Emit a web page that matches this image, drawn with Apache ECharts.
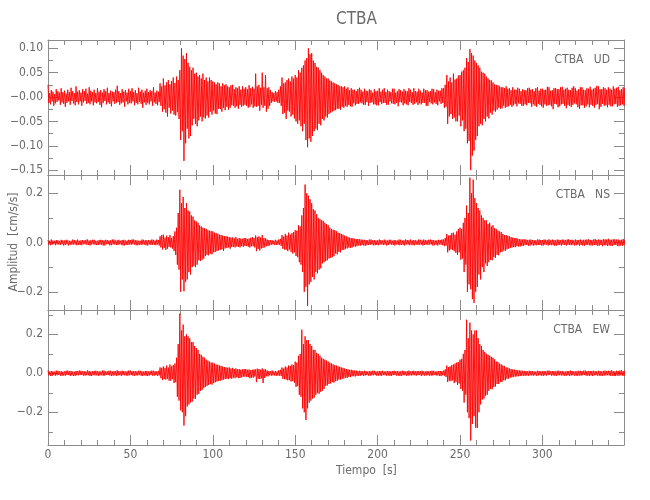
<!DOCTYPE html>
<html>
<head>
<meta charset="utf-8">
<script src="https://cdn.jsdelivr.net/npm/echarts@6/dist/echarts.min.js"></script>
<style>html,body{margin:0;padding:0;background:#fff;}#c{width:650px;height:500px;}</style>
</head>
<body>
<div id="c"></div>
<script>
// ---------------- DATA ----------------
const sampleStep = 0.5; // seconds between samples
// Acceleration in 10^-3 cm/s/s, two values per second, t = 0 .. 350 s
const udMilli = [
25,-12,8,-15,14,-9,11,-18,6,-13,16,-10,12,-7,9,-16,18,-11,10,-14,
13,-20,7,-12,15,-9,10,-16,19,-8,12,-13,8,-17,22,-10,11,-15,14,-9,
9,-18,16,-11,12,-8,17,-14,7,-12,20,-15,13,-9,10,-17,15,-11,8,-13,
18,-10,11,-16,14,-21,9,-12,16,-8,12,-15,19,-11,8,-14,13,-19,11,-9,
10,-14,15,-12,23,-10,12,-16,8,-13,16,-11,11,-20,14,-9,9,-15,17,-12,
12,-13,18,-9,10,-17,14,-12,8,-15,19,-10,11,-14,15,-22,9,-11,13,-16,
17,-12,10,-15,14,-9,12,-18,20,-11,9,-14,13,-17,11,-10,28,-18,22,-30,
38,-25,24,-32,30,-40,35,-22,26,-34,33,-28,40,-36,29,-38,42,-31,35,-45,
55,-88,100,-70,85,-131,78,-95,90,-65,70,-85,62,-80,55,-58,60,-45,48,-55,
50,-60,42,-48,45,-40,38,-50,48,-42,35,-44,40,-38,32,-42,40,-30,35,-36,
32,-28,30,-34,26,-35,30,-24,28,-25,22,-30,28,-22,24,-27,26,-20,22,-26,
20,-22,24,-17,25,-18,16,-22,20,-19,18,-24,22,-16,15,-20,22,-18,17,-16,
20,-18,16,-22,24,-20,18,-15,21,-22,17,-19,48,-20,22,-18,25,-28,19,-16,
50,-22,20,-18,45,-30,18,-24,20,-18,14,-12,10,-9,8,-10,12,-9,10,-12,
15,-12,22,-18,40,-35,28,-32,30,-45,35,-28,38,-30,32,-40,42,-36,38,-44,
45,-50,40,-55,55,-48,50,-60,60,-70,65,-55,75,-88,80,-103,100,-85,88,-92,
90,-80,75,-70,70,-65,62,-68,60,-55,55,-58,50,-45,45,-48,42,-40,38,-42,
38,-35,34,-32,32,-30,30,-28,28,-27,26,-24,25,-24,22,-26,22,-20,20,-22,
22,-18,17,-20,20,-16,14,-19,18,-20,15,-13,15,-17,12,-14,16,-14,19,-11,
15,-13,11,-16,17,-16,13,-10,12,-18,16,-12,14,-11,9,-15,16,-15,12,-17,
13,-17,18,-10,11,-14,15,-12,18,-12,10,-16,15,-16,12,-9,10,-13,17,-14,
17,-15,9,-12,12,-19,16,-10,14,-11,11,-17,16,-13,13,-15,12,-17,18,-10,
15,-12,10,-16,18,-14,12,-11,11,-16,17,-13,13,-15,9,-12,17,-12,14,-18,
14,-18,11,-10,12,-13,17,-15,16,-11,10,-14,15,-17,13,-9,13,-14,18,-12,
18,-22,25,-20,45,-55,32,-40,40,-35,30,-45,48,-42,36,-50,38,-50,44,-38,
45,-60,52,-48,55,-70,60,-65,80,-95,72,-90,98,-150,90,-120,85,-110,75,-88,
70,-80,65,-60,60,-55,52,-58,50,-45,48,-50,42,-40,38,-44,35,-32,34,-36,
30,-28,26,-30,25,-26,24,-22,22,-24,20,-23,20,-18,18,-22,22,-20,17,-19,
18,-16,14,-20,20,-17,15,-14,15,-19,19,-13,17,-14,12,-18,16,-18,14,-15,
14,-17,18,-12,19,-13,15,-20,16,-15,12,-18,18,-20,20,-14,13,-16,17,-19,
17,-22,14,-15,15,-18,21,-17,20,-16,13,-19,14,-25,18,-14,18,-15,16,-21,
16,-19,20,-15,21,-14,15,-18,17,-23,19,-16,15,-18,14,-20,19,-16,22,-13,
18,-15,13,-21,16,-24,20,-17,20,-17,15,-22,14,-19,18,-15,17,-21,21,-16,
15,-18,17,-22,19,-16,23,-14,22,-25,16,-20,16,-14,20,-18,18,-17,15,-21,
20,-16,17,-19,15,-19,22,-15,17,-14,19,-20,21,-18,14,-17,16,-15,20,-18,
19
];
const nsMilli = [
10,-8,7,-11,12,-9,8,-6,7,-11,10,-8,9,-8,6,-10,11,-7,9,-12,
8,-10,11,-7,9,-12,7,-9,7,-9,12,-8,10,-8,8,-11,12,-9,7,-10,
9,-11,10,-7,8,-7,11,-9,12,-10,8,-12,9,-8,11,-7,11,-9,7,-10,
7,-10,10,-8,11,-9,9,-12,8,-12,11,-7,10,-7,8,-11,9,-11,12,-8,
12,-8,8,-10,9,-10,11,-7,7,-9,10,-12,11,-12,8,-9,8,-10,11,-8,
10,-9,12,-7,12,-8,9,-11,9,-11,7,-9,7,-10,12,-8,11,-8,9,-11,
9,-12,10,-8,8,-10,12,-9,11,-9,8,-11,12,-8,10,-12,25,-20,30,-28,
32,-22,20,-30,28,-25,22,-18,30,-20,18,-25,26,-35,45,-50,60,-90,120,-110,
214,-200,160,-150,185,-198,140,-160,160,-150,130,-120,125,-130,110,-100,105,-95,90,-100,
85,-90,80,-72,70,-75,65,-70,60,-65,58,-55,55,-50,50,-52,48,-45,46,-48,
45,-40,40,-38,38,-35,36,-32,32,-30,30,-28,28,-34,26,-24,25,-22,24,-20,
22,-25,20,-18,20,-18,17,-20,22,-16,15,-18,18,-20,16,-14,15,-17,18,-14,
18,-14,14,-17,16,-20,19,-15,22,-15,18,-20,28,-35,22,-26,25,-32,20,-24,
30,-22,18,-20,18,-15,12,-14,10,-12,9,-9,9,-8,7,-10,11,-10,8,-9,
12,-9,15,-14,30,-25,24,-28,35,-30,28,-35,40,-28,32,-38,38,-45,42,-40,
50,-55,48,-60,70,-80,65,-90,110,-120,140,-200,235,-180,200,-257,190,-170,175,-160,
160,-140,135,-150,130,-120,115,-125,100,-110,95,-105,90,-85,88,-80,80,-75,75,-72,
70,-65,60,-62,55,-60,52,-55,50,-45,46,-48,40,-38,38,-40,35,-30,32,-30,
28,-25,25,-24,22,-20,20,-22,18,-20,18,-16,15,-17,14,-15,14,-12,13,-13,
12,-10,11,-12,11,-13,10,-11,9,-10,12,-9,12,-8,9,-11,10,-11,8,-10,
9,-11,12,-8,10,-8,8,-10,12,-9,9,-12,8,-10,11,-7,11,-9,7,-10,
10,-12,9,-8,8,-9,12,-11,11,-10,8,-9,9,-12,12,-8,10,-8,9,-11,
12,-9,8,-11,10,-11,9,-8,8,-10,12,-9,11,-9,8,-12,12,-10,10,-8,
9,-10,11,-8,12,-8,10,-12,10,-11,8,-9,9,-12,11,-8,10,-9,12,-11,
12,-15,18,-12,35,-40,28,-32,30,-28,38,-30,40,-35,32,-42,45,-50,55,-40,
60,-70,55,-65,80,-120,100,-90,150,-200,120,-170,263,-190,200,-230,255,-245,180,-200,
160,-180,140,-130,130,-150,110,-100,100,-120,90,-85,90,-95,75,-80,80,-70,65,-72,
70,-60,58,-62,55,-50,48,-52,45,-40,42,-38,35,-32,30,-34,30,-28,27,-25,
25,-22,22,-20,20,-18,18,-19,18,-15,15,-16,14,-16,13,-14,12,-13,13,-11,
12,-10,10,-13,11,-13,12,-9,10,-12,9,-11,9,-11,12,-10,12,-10,10,-12,
10,-12,12,-9,11,-9,10,-12,13,-10,9,-11,12,-11,10,-13,9,-13,12,-10,
11,-10,9,-12,12,-9,11,-10,10,-12,12,-9,13,-10,10,-11,11,-9,9,-12,
12,-11,10,-9,10,-13,12,-10,9,-12,11,-13,11,-10,12,-9,13,-11,10,-12,
10,-12,12,-10,14,-11,10,-13,12,-13,11,-10,10,-15,13,-11,13,-11,12,-14,
15,-12,11,-13,11,-14,13,-10,13,-10,12,-14,12,-15,10,-12,11,-13,14,-11,
12
];
const ewMilli = [
15,-10,9,-13,12,-14,10,-8,9,-12,14,-10,13,-8,10,-12,11,-13,8,-11,
10,-12,13,-9,14,-9,11,-13,12,-11,9,-14,8,-13,12,-10,12,-10,14,-9,
13,-9,10,-12,11,-12,9,-10,15,-10,12,-13,9,-14,11,-9,12,-11,13,-10,
11,-13,10,-11,9,-10,14,-12,14,-12,10,-9,10,-9,13,-11,13,-14,9,-12,
12,-10,11,-13,15,-11,12,-9,9,-13,13,-10,12,-10,9,-12,11,-12,14,-10,
14,-9,10,-12,12,-13,11,-10,10,-11,13,-9,13,-12,10,-14,9,-10,12,-13,
12,-14,9,-11,11,-9,14,-12,13,-12,11,-10,10,-13,13,-11,30,-25,28,-35,
35,-30,28,-32,40,-28,30,-38,45,-38,36,-30,42,-50,50,-45,80,-120,150,-140,
306,-190,220,-200,250,-268,190,-220,200,-170,190,-160,180,-150,160,-145,160,-130,140,-130,
130,-110,120,-105,100,-90,95,-85,85,-75,80,-70,70,-65,65,-60,60,-55,55,-58,
55,-50,50,-46,45,-42,44,-40,40,-38,38,-35,35,-32,32,-30,30,-28,28,-30,
30,-25,25,-28,28,-22,22,-25,25,-20,20,-24,22,-24,18,-20,20,-18,22,-17,
22,-18,18,-20,20,-25,16,-22,18,-22,20,-16,20,-45,24,-28,22,-30,18,-26,
25,-50,20,-24,20,-15,14,-16,12,-10,10,-12,14,-11,9,-11,12,-13,10,-12,
15,-12,18,-14,30,-28,25,-30,35,-32,30,-36,40,-35,38,-42,45,-40,42,-48,
60,-70,55,-65,90,-110,100,-120,224,-180,150,-200,190,-240,170,-180,170,-150,150,-140,
140,-130,120,-125,120,-110,105,-100,100,-105,90,-95,80,-90,75,-80,70,-65,65,-62,
60,-55,55,-52,50,-45,46,-48,42,-40,40,-38,35,-32,34,-32,30,-28,28,-26,
25,-22,22,-24,20,-18,18,-20,18,-15,16,-15,14,-16,14,-13,12,-13,13,-12,
12,-10,10,-13,13,-11,11,-9,9,-12,12,-12,11,-10,13,-10,13,-9,9,-12,
10,-12,12,-11,11,-13,13,-9,9,-10,10,-12,12,-11,11,-13,10,-13,12,-9,
13,-9,11,-12,11,-12,10,-13,10,-14,13,-10,12,-10,9,-12,11,-12,14,-10,
9,-11,12,-10,13,-10,10,-12,12,-9,11,-9,11,-13,13,-10,10,-12,9,-11,
12,-10,10,-12,11,-12,13,-11,13,-9,9,-11,10,-11,12,-13,12,-14,11,-10,
14,-12,20,-18,40,-45,32,-38,35,-40,42,-36,45,-50,50,-44,55,-60,58,-52,
70,-80,75,-90,100,-150,120,-110,275,-200,180,-230,260,-345,220,-260,200,-220,220,-280,
220,-280,180,-200,150,-160,140,-135,120,-130,110,-115,100,-110,95,-90,90,-80,85,-82,
80,-70,72,-68,60,-55,58,-55,50,-45,46,-44,40,-35,38,-36,30,-28,29,-27,
25,-22,22,-21,20,-18,19,-17,17,-16,16,-15,15,-14,14,-13,13,-12,12,-13,
12,-11,10,-13,13,-10,12,-11,11,-12,9,-10,9,-13,13,-11,12,-10,10,-12,
11,-13,12,-10,10,-12,13,-9,14,-9,10,-12,12,-11,11,-12,10,-13,13,-10,
13,-10,10,-11,12,-11,9,-13,9,-12,12,-10,11,-14,14,-11,12,-10,10,-12,
10,-12,11,-13,13,-11,12,-12,12,-10,13,-9,14,-12,11,-12,11,-13,12,-11,
12,-14,13,-10,11,-10,10,-12,13,-12,11,-13,10,-13,12,-11,14,-11,12,-10,
13,-11,12,-13,15,-12,11,-14,10,-14,13,-11,12,-13,14,-10,16,-12,11,-13,
14
];
// axis ticks
const xMajorTicks = [0,50,100,150,200,250,300];
const xMinorTicks = [10,20,30,40,60,70,80,90,110,120,130,140,160,170,180,190,210,220,230,240,260,270,280,290,310,320,330,340];
const udMajorTicks = [-0.15,-0.10,-0.05,0,0.05,0.10];
const udTickLabels = ['\u22120.15','\u22120.10','\u22120.05','\u22120.00','0.05','0.10'];
const udMinorTicks = [-0.125,-0.075,-0.025,0.025,0.075];
const nsMajorTicks = [-0.2,0,0.2];
const nsTickLabels = ['\u22120.2','0.0','0.2'];
const nsMinorTicks = [-0.1,0.1];
const ewMajorTicks = [-0.2,0,0.2];
const ewTickLabels = ['\u22120.2','0.0','0.2'];
const ewMinorTicks = [-0.3,-0.1,0.1,0.3];
const panelNames = ['CTBA   UD','CTBA   NS','CTBA   EW'];

// ---------------- CHART ----------------
const FONT = '"Liberation Sans Narrow","DejaVu Sans Condensed",sans-serif';
const LINE = '#8c8c8c';
const TXT = '#6a6a6a';
const X0 = 0, X1 = 349.5;
const panels = [
  {vals: udMilli, min: -0.160, max: 0.117, major: udMajorTicks, labels: udTickLabels, minor: udMinorTicks},
  {vals: nsMilli, min: -0.274, max: 0.274, major: nsMajorTicks, labels: nsTickLabels, minor: nsMinorTicks},
  {vals: ewMilli, min: -0.368, max: 0.325, major: ewMajorTicks, labels: ewTickLabels, minor: ewMinorTicks}
];
const gridTops = [40, 175, 310];
const grids = [], xAxes = [], yAxes = [], series = [], graphics = [];

panels.forEach((p, gi) => {
  grids.push({left: 48, top: gridTops[gi], width: 576, height: 135});
  const isBottom = gi === 2;
  const baseX = xAxes.length;
  ['bottom','top'].forEach(pos => {
    xAxes.push({
      type: 'value', gridIndex: gi, position: pos, min: X0, max: X1,
      axisLine: {show: true, onZero: false, lineStyle: {color: LINE, width: 1}},
      axisTick: {show: true, inside: true, length: 10, customValues: xMajorTicks, lineStyle: {color: LINE}},
      axisLabel: {show: isBottom && pos === 'bottom', customValues: xMajorTicks, margin: 4,
        color: TXT, fontFamily: FONT, fontSize: 12},
      splitLine: {show: false}
    });
    xAxes.push({
      type: 'value', gridIndex: gi, position: pos, min: X0, max: X1,
      axisLine: {show: true, onZero: false, lineStyle: {color: LINE, opacity: 0}},
      axisTick: {show: true, inside: true, length: 5, customValues: xMinorTicks, lineStyle: {color: LINE}},
      axisLabel: {show: false, customValues: xMinorTicks},
      splitLine: {show: false}
    });
  });
  const baseY = yAxes.length;
  ['left','right'].forEach(pos => {
    yAxes.push({
      type: 'value', gridIndex: gi, position: pos, min: p.min, max: p.max,
      axisLine: {show: true, onZero: false, lineStyle: {color: LINE, width: 1}},
      axisTick: {show: true, inside: true, length: 10, customValues: p.major, lineStyle: {color: LINE}},
      axisLabel: {show: pos === 'left', customValues: p.major, margin: 5, color: TXT, fontFamily: FONT, fontSize: 12,
        formatter: v => { const k = p.major.findIndex(m => Math.abs(m - v) < 1e-9); return k >= 0 ? p.labels[k] : ''; }},
      splitLine: {show: false}
    });
    yAxes.push({
      type: 'value', gridIndex: gi, position: pos, min: p.min, max: p.max,
      axisLine: {show: true, onZero: false, lineStyle: {color: LINE, opacity: 0}},
      axisTick: {show: true, inside: true, length: 5, customValues: p.minor, lineStyle: {color: LINE}},
      axisLabel: {show: false, customValues: p.minor},
      splitLine: {show: false}
    });
  });
  const pts = p.vals.map((v, i) => [i * sampleStep, v / 1000]);
  series.push({
    type: 'line', xAxisIndex: baseX, yAxisIndex: baseY, data: pts, showSymbol: false, silent: true,
    lineStyle: {color: '#ff0000', width: 0.9, opacity: 1}, z: 3, animation: false
  });
  graphics.push({
    type: 'text', right: 650 - 610, top: gridTops[gi] + 14,
    style: {text: panelNames[gi], fill: TXT, font: '12px ' + FONT, textAlign: 'right'}
  });
});

graphics.push({type: 'text', left: 336, top: 11,
  style: {text: 'CTBA', fill: TXT, font: '17px ' + FONT, textAlign: 'center'}});
graphics.push({type: 'text', left: 336, top: 465,
  style: {text: 'Tiempo  [s]', fill: TXT, font: '12px ' + FONT, textAlign: 'center'}});
graphics.push({type: 'text', x: 14, y: 242, rotation: Math.PI / 2,
  style: {text: 'Amplitud  [cm/s/s]', fill: TXT, font: '12px ' + FONT, textAlign: 'center', textVerticalAlign: 'middle'}});

const chart = echarts.init(document.getElementById('c'), null, {renderer: 'canvas'});
chart.setOption({
  animation: false,
  backgroundColor: '#fff',
  grid: grids, xAxis: xAxes, yAxis: yAxes, series: series, graphic: graphics
});
</script>
</body>
</html>
